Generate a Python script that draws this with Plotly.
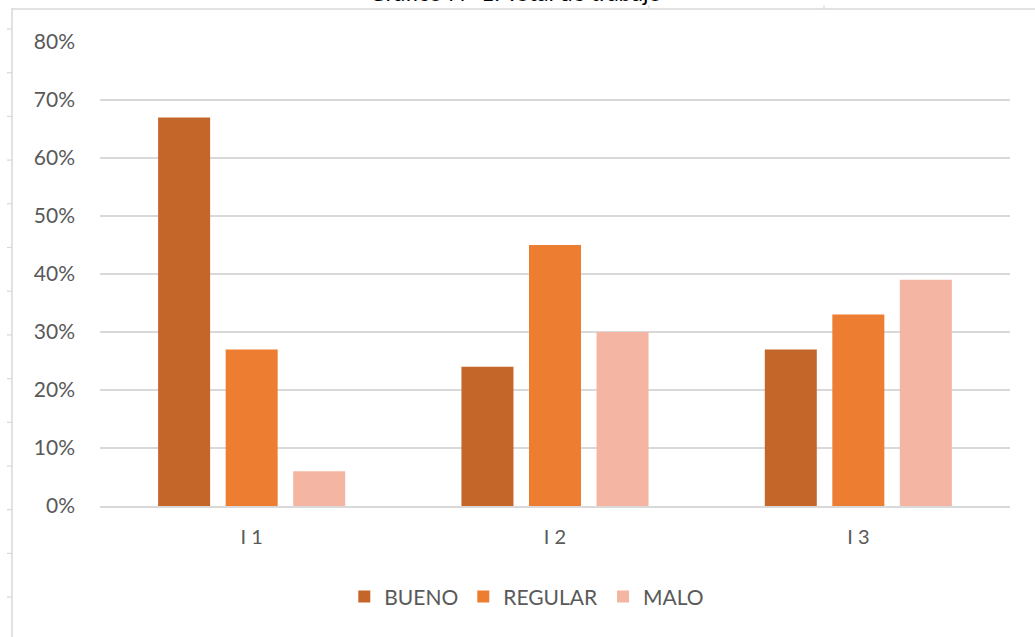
import plotly.graph_objects as go

categories = ["I 1", "I 2", "I 3"]
bueno = [0.67, 0.24, 0.27]
regular = [0.27, 0.45, 0.33]
malo = [0.06, 0.30, 0.39]
series_names = ["BUENO", "REGULAR", "MALO"]
colors = ["#C4652A", "#ED7D31", "#F4B6A2"]
y_ticks = [0, 0.1, 0.2, 0.3, 0.4, 0.5, 0.6, 0.7, 0.8]
y_ticklabels = ["0%", "10%", "20%", "30%", "40%", "50%", "60%", "70%", "80%"]

W, H = 1035, 637
ML, MR, MT, MB = 100, 25, 42, 131

fig = go.Figure()
for name, vals, col in zip(series_names, [bueno, regular, malo], colors):
    fig.add_trace(go.Bar(name=name, x=categories, y=vals, marker=dict(color=col, line=dict(width=0))))

font_fam = "Lato, 'Open Sans', sans-serif"
fig.update_layout(
    width=W, height=H,
    margin=dict(l=ML, r=MR, t=MT, b=MB, pad=0),
    paper_bgcolor="white", plot_bgcolor="white",
    barmode="group", bargap=0.332, bargroupgap=0.23,
    font=dict(family=font_fam, color="#595959", size=20),
    showlegend=True,
    legend=dict(orientation="h", x=0.469, xanchor="center", y=-0.196, yanchor="middle",
                font=dict(size=21, color="#595959"), itemwidth=30, traceorder="normal"),
    yaxis=dict(range=[0, 0.8], tickvals=y_ticks, ticktext=y_ticklabels, showgrid=True,
               gridcolor="#D9D9D9", gridwidth=1.5, zeroline=False, showline=False,
               ticks="", ticklabelstandoff=24, tickfont=dict(size=21, color="#595959")),
    xaxis=dict(showgrid=False, zeroline=False, showline=True, linecolor="#D9D9D9", linewidth=1.5,
               ticks="", tickfont=dict(size=20, color="#595959"), ticklabelstandoff=12),
)

# frame of the embedding page (border lines)
def px_x(px):
    return (px - ML) / (W - ML - MR)

def px_y(py):
    return (H - MB - py) / (H - MT - MB)

shapes = []
shapes.append(dict(type="line", xref="paper", yref="paper", x0=px_x(11), x1=px_x(1035),
                   y0=px_y(9), y1=px_y(9), line=dict(color="#D9D9D9", width=1.5)))
shapes.append(dict(type="line", xref="paper", yref="paper", x0=px_x(12), x1=px_x(12),
                   y0=px_y(9), y1=px_y(637), line=dict(color="#D9D9D9", width=1.5)))
for k in range(14):
    py = 29 + k * 43.7
    shapes.append(dict(type="line", xref="paper", yref="paper", x0=px_x(7), x1=px_x(12),
                       y0=px_y(py), y1=px_y(py), line=dict(color="#D9D9D9", width=1.2)))
for px in [649, 824]:
    shapes.append(dict(type="line", xref="paper", yref="paper", x0=px_x(px), x1=px_x(px),
                       y0=px_y(9), y1=px_y(5), line=dict(color="#D9D9D9", width=1.2)))
fig.update_layout(shapes=shapes)

# page title above the chart, cut off by the top edge as in the reference
fig.add_annotation(text="Gráfico N° 1: Total de trabajo", xref="paper", yref="paper",
                   x=px_x(515), y=px_y(8), xanchor="center", yanchor="bottom", showarrow=False,
                   font=dict(size=23, color="#000000", family=font_fam))

fig.write_html("out.html")
